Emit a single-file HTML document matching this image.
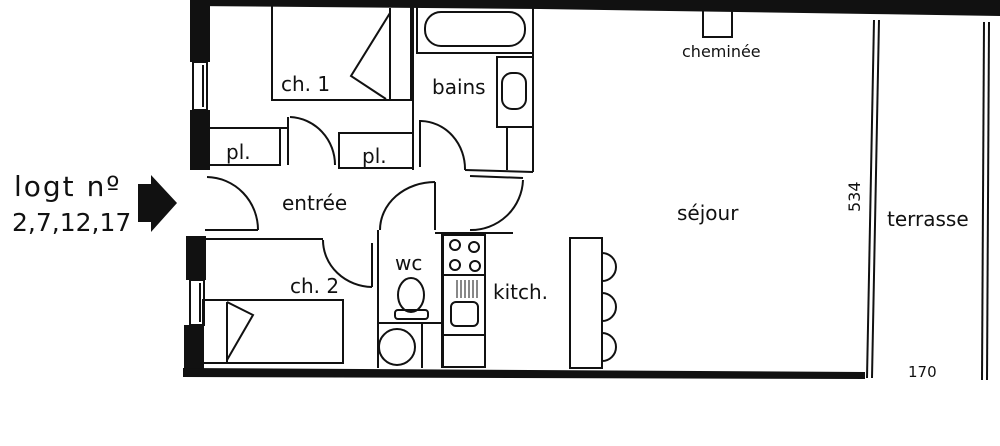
<!DOCTYPE html>
<html><head><style>
html,body{margin:0;padding:0;background:#fff;}
svg{display:block;}
text{font-family:"DejaVu Sans","Liberation Sans",sans-serif;fill:#111;}
</style></head><body>
<svg width="1000" height="446" viewBox="0 0 1000 446" xmlns="http://www.w3.org/2000/svg">
<rect width="1000" height="446" fill="#fff"/>
<g fill="#111">
<polygon points="190,0 1000,0 1000,16 870,14 540,9 190,6"/>
<rect x="190" y="0" width="20" height="62"/>
<rect x="190" y="110" width="20" height="60"/>
<rect x="186" y="236" width="20" height="44"/>
<rect x="184" y="325" width="20" height="50"/>
<polygon points="183,368 865,372 865,379 183,377"/>
<polygon points="138,184 151,184 151,175 177,203 151,232 151,222 138,222"/>
</g>
<g fill="none" stroke="#111" stroke-width="2">
<rect x="193" y="62" width="14" height="48"/>
<line x1="203" y1="65" x2="203" y2="107"/>
<rect x="190" y="280" width="14" height="45"/>
<line x1="200" y1="283" x2="200" y2="322"/>
<rect x="272" y="5" width="139" height="95"/>
<line x1="390" y1="8" x2="390" y2="99"/>
<polyline points="390,13 351,76 386,99"/>
<line x1="413" y1="5" x2="413" y2="170"/>
<line x1="207" y1="128" x2="288" y2="128"/>
<rect x="207" y="128" width="73" height="37"/>
<rect x="339" y="133" width="74" height="35"/>
<line x1="288" y1="117" x2="288" y2="165"/>
<path d="M290,117 A47,48 0 0 1 335,165"/>
<rect x="417" y="5" width="116" height="48"/>
<rect x="425" y="12" width="100" height="34" rx="16"/>
<rect x="497" y="57" width="36" height="70"/>
<rect x="502" y="73" width="24" height="36" rx="10"/>
<line x1="507" y1="127" x2="507" y2="170"/>
<line x1="533" y1="0" x2="533" y2="172"/>
<line x1="420" y1="120" x2="420" y2="167"/>
<path d="M421,121 A45,48 0 0 1 465,170"/>
<line x1="465" y1="170" x2="533" y2="172"/>
<line x1="470" y1="176" x2="523" y2="178"/>
<path d="M523,180 A52,52 0 0 1 470,230"/>
<line x1="435" y1="233" x2="513" y2="233"/>
<line x1="205" y1="230" x2="258" y2="230"/>
<path d="M207,177 A52,53 0 0 1 258,230"/>
<line x1="205" y1="239" x2="323" y2="239"/>
<path d="M323,240 A50,47 0 0 0 372,287"/>
<line x1="372" y1="243" x2="372" y2="287"/>
<rect x="203" y="300" width="140" height="63"/>
<polyline points="227,302 253,315 227,360"/>
<line x1="227" y1="302" x2="227" y2="362"/>
<line x1="378" y1="230" x2="378" y2="368"/>
<line x1="442" y1="233" x2="442" y2="368"/>
<line x1="435" y1="182" x2="435" y2="230"/>
<path d="M435,182 A55,48 0 0 0 380,230"/>
<line x1="378" y1="323" x2="442" y2="323"/>
<line x1="422" y1="323" x2="422" y2="368"/>
<circle cx="397" cy="347" r="18"/>
<ellipse cx="411" cy="295" rx="13" ry="17"/>
<rect x="395" y="310" width="33" height="9" rx="3"/>
<rect x="443" y="235" width="42" height="132"/>
<line x1="443" y1="275" x2="485" y2="275"/>
<line x1="443" y1="335" x2="485" y2="335"/>
<circle cx="455" cy="245" r="5"/><circle cx="474" cy="247" r="5"/>
<circle cx="455" cy="265" r="5"/><circle cx="475" cy="266" r="5"/>
<rect x="451" y="302" width="27" height="24" rx="5"/>
<rect x="703" y="10" width="29" height="27"/>
<rect x="570" y="238" width="32" height="130"/>
<path d="M602,253 A14,14 0 0 1 602,281"/>
<path d="M602,293 A14,14 0 0 1 602,321"/>
<path d="M602,333 A14,14 0 0 1 602,361"/>
<line x1="874" y1="20" x2="867" y2="378"/>
<line x1="879" y1="20" x2="872" y2="378"/>
<line x1="984" y1="22" x2="982" y2="380"/>
<line x1="989" y1="22" x2="987" y2="380"/>
</g>
<g stroke="#111" stroke-width="1">
<line x1="457" y1="280" x2="457" y2="298"/><line x1="461" y1="280" x2="461" y2="298"/>
<line x1="465" y1="280" x2="465" y2="298"/><line x1="469" y1="280" x2="469" y2="298"/>
<line x1="473" y1="280" x2="473" y2="298"/><line x1="477" y1="280" x2="477" y2="298"/>
</g>
<g font-size="20">
<text x="281" y="91">ch. 1</text>
<text x="432" y="94">bains</text>
<text x="226" y="159">pl.</text>
<text x="362" y="163">pl.</text>
<text x="282" y="210">entrée</text>
<text x="395" y="270">wc</text>
<text x="290" y="293">ch. 2</text>
<text x="493" y="299">kitch.</text>
<text x="677" y="220">séjour</text>
<text x="887" y="226">terrasse</text>
</g>
<text x="682" y="57" font-size="16">cheminée</text>
<text x="908" y="377" font-size="15">170</text>
<text transform="translate(860,212) rotate(-90)" font-size="16">534</text>
<text x="14" y="196" font-size="28" letter-spacing="2">logt nº</text>
<text x="12" y="231" font-size="25">2,7,12,17</text>
</svg>
</body></html>
